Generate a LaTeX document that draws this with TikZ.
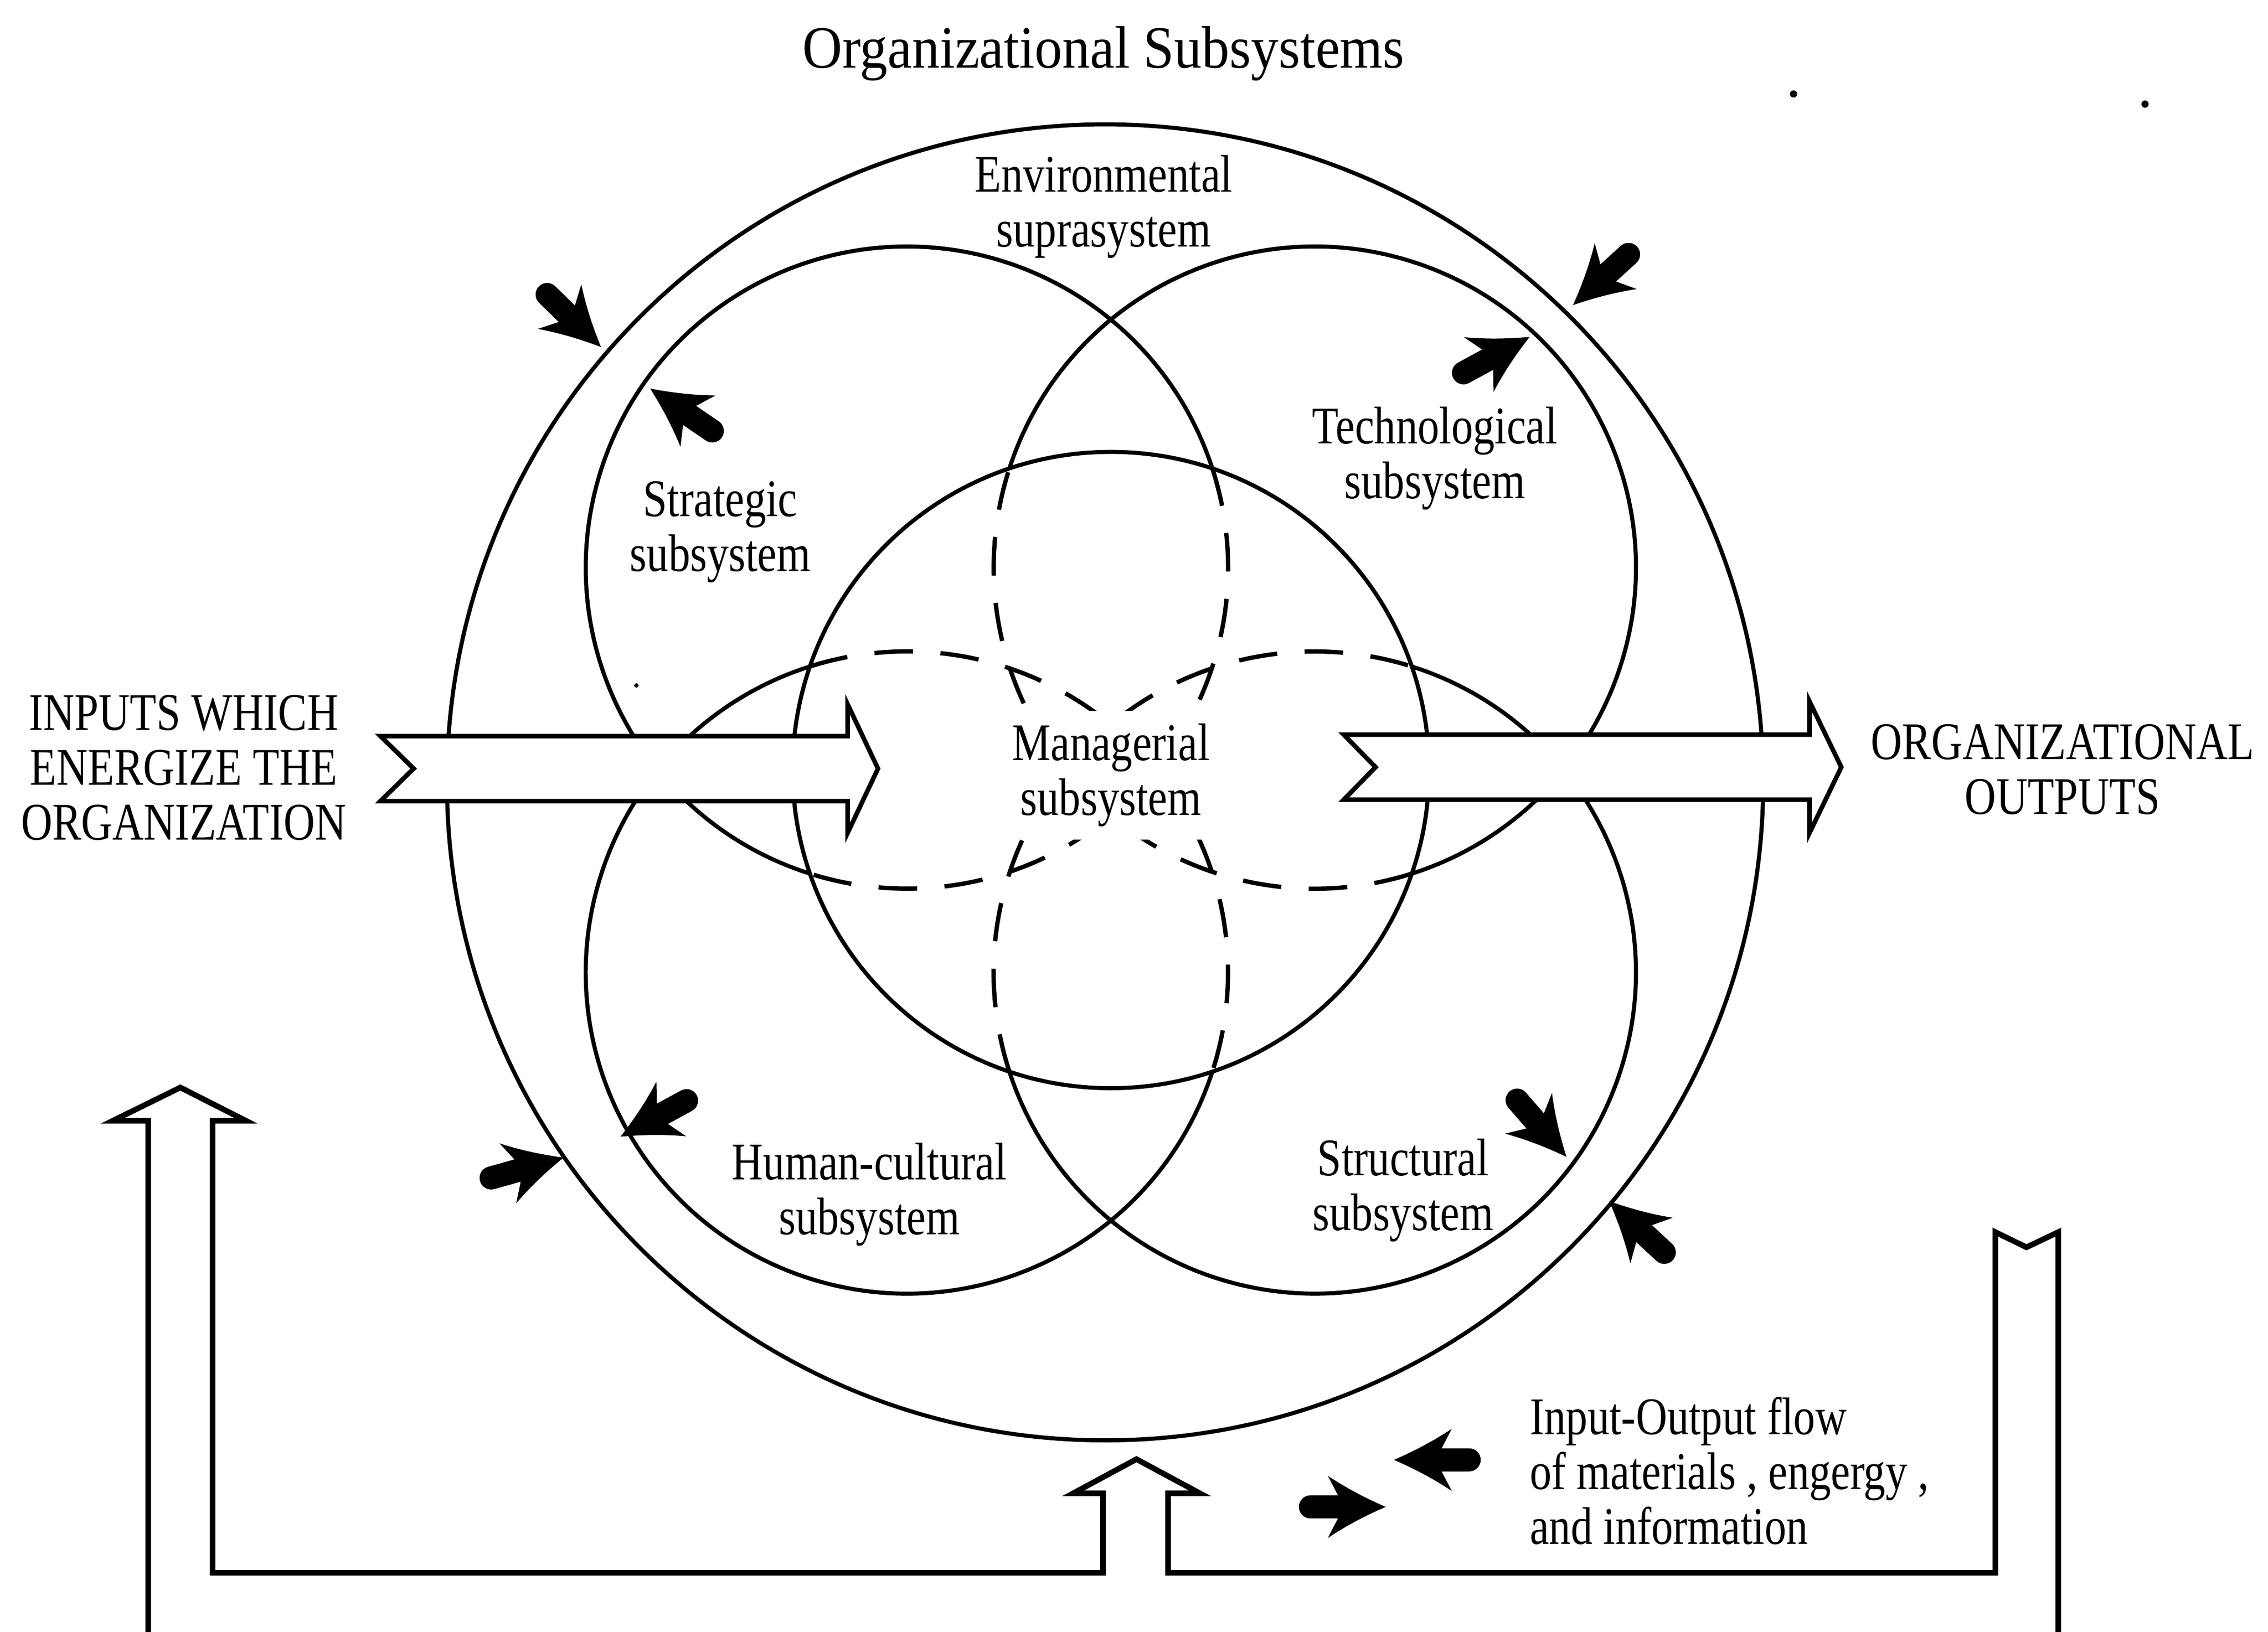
\documentclass[tikz,border=0pt]{standalone}
\usepackage{fontspec}
\setmainfont{Liberation Serif}
\newfontfamily\labfont{Liberation Serif}[FakeStretch=0.82]
\newfontfamily\ttlfont{Liberation Serif}[FakeStretch=0.92]
\begin{document}
\begin{tikzpicture}[x=0.01cm, y=-0.01cm,
  circ/.style={line width=0.8pt},
  dsh/.style={line width=0.85pt, dash pattern=on 7.6pt off 5.4pt},
  bigarrow/.style={draw, line width=0.9pt, fill=white, line join=miter},
  pipe/.style={draw, line width=1.1pt, line join=miter},
  lab/.style={font=\labfont\fontsize{10.4pt}{10.8pt}\selectfont, align=center, inner sep=0pt},
  ttl/.style={font=\ttlfont\fontsize{11.8pt}{12pt}\selectfont, inner sep=0pt},
  fatarrow/.pic={\fill (0,0) .. controls (-15,6.5) and (-28,13.5) .. (-40,21.5) -- (-33,8) -- (-52,8)
     arc[start angle=90, end angle=270, radius=8] -- (-33,-8) -- (-40,-21.5)
     .. controls (-28,-13.5) and (-15,-6.5) .. (0,0) -- cycle;}
]
\useasboundingbox (0,0) rectangle (1568,1128.5);

% centres
\coordinate (O) at (764,541);
\coordinate (M) at (768,532.5);
\coordinate (CS) at (627,392.5);
\coordinate (CT) at (909,392.5);
\coordinate (CH) at (627,672.5);
\coordinate (CR) at (909,672.5);

% environmental suprasystem
\draw[circ] (O) circle[radius=455];
% managerial
\draw[circ] (M) circle[radius=220];
% strategic
\draw[circ] (CS) ++(107.6:222) arc[start angle=107.6, end angle=342, radius=222];
\draw[dsh]  (CS) ++(-18:222) arc[start angle=-18, end angle=107.6, radius=222];
% technological
\draw[circ] (CT) ++(-162:222) arc[start angle=-162, end angle=72.4, radius=222];
\draw[dsh]  (CT) ++(72.4:222) arc[start angle=72.4, end angle=198, radius=222];
% human-cultural
\draw[circ] (CH) ++(18:222) arc[start angle=18, end angle=252.4, radius=222];
\draw[dsh]  (CH) ++(-107.6:222) arc[start angle=-107.6, end angle=18, radius=222];
% structural
\draw[circ] (CR) ++(287.6:222) arc[start angle=287.6, end angle=522, radius=222];
\draw[dsh]  (CR) ++(162:222) arc[start angle=162, end angle=287.6, radius=222];

% small black arrows
\pic[rotate=-44.3] at (415.5,240) {fatarrow};
\pic[rotate=145.7] at (449.5,268.7) {fatarrow};
\pic[rotate=-137.6] at (1087.5,211) {fatarrow};
\pic[rotate=28.5] at (1057.5,233) {fatarrow};
\pic[rotate=-151.4] at (429,786) {fatarrow};
\pic[rotate=15.7] at (389.6,800.5) {fatarrow};
\pic[rotate=-49] at (1083,800) {fatarrow};
\pic[rotate=137.1] at (1112.5,830.6) {fatarrow};
\pic[rotate=180] at (963.7,1009.5) {fatarrow};
\pic[rotate=0] at (958,1042) {fatarrow};

% big input / output arrows
\path[bigarrow] (263,509) -- (586,509) -- (586,487) -- (607,531.5) -- (586,576) -- (586,554)
  -- (263,554) -- (286,531.5) -- cycle;
\path[bigarrow] (929,508) -- (1251,508) -- (1251,485) -- (1273,530.5) -- (1251,576) -- (1251,553)
  -- (929,553) -- (951,530.5) -- cycle;

% feedback pipe
\path[pipe] (102.5,1140) -- (102.5,775) -- (78,775) -- (124.7,752) -- (170,775) -- (147,775)
  -- (147,1087.6) -- (762.5,1087.6) -- (762.5,1032.6) -- (742,1032.6) -- (785.7,1009)
  -- (829.5,1032.6) -- (807.5,1032.6) -- (807.5,1087.6) -- (1379.5,1087.6) -- (1379.5,852)
  -- (1401,862.5) -- (1423,852) -- (1423,1140);

% specks
\fill (1240,65) circle[radius=2.5];
\fill (1483,72) circle[radius=2.5];
\fill (440,474) circle[radius=1.5];

% texts
\node[ttl] (title) at (763,37) {Organizational Subsystems};
\node[lab] (env) at (763,143) {Environmental\\suprasystem};
\node[lab] (tech) at (992,317) {Technological\\subsystem};
\node[lab] (strat) at (498,368) {Strategic\\subsystem};
\node[lab, fill=white, inner sep=2.5pt] (mgr) at (768,536) {Managerial\\subsystem};
\node[lab] (hum) at (601,826) {Human-cultural\\subsystem};
\node[lab] (struc) at (970,823) {Structural\\subsystem};
\node[lab] (inp) at (127,531) {INPUTS WHICH\\ENERGIZE THE\\ORGANIZATION};
\node[lab] (outp) at (1426,532) {ORGANIZATIONAL\\OUTPUTS};
\node[lab, align=left, anchor=west] (legend) at (1057,1017) {Input-Output flow\\of materials , engergy ,\\and information};
\end{tikzpicture}
\end{document}
